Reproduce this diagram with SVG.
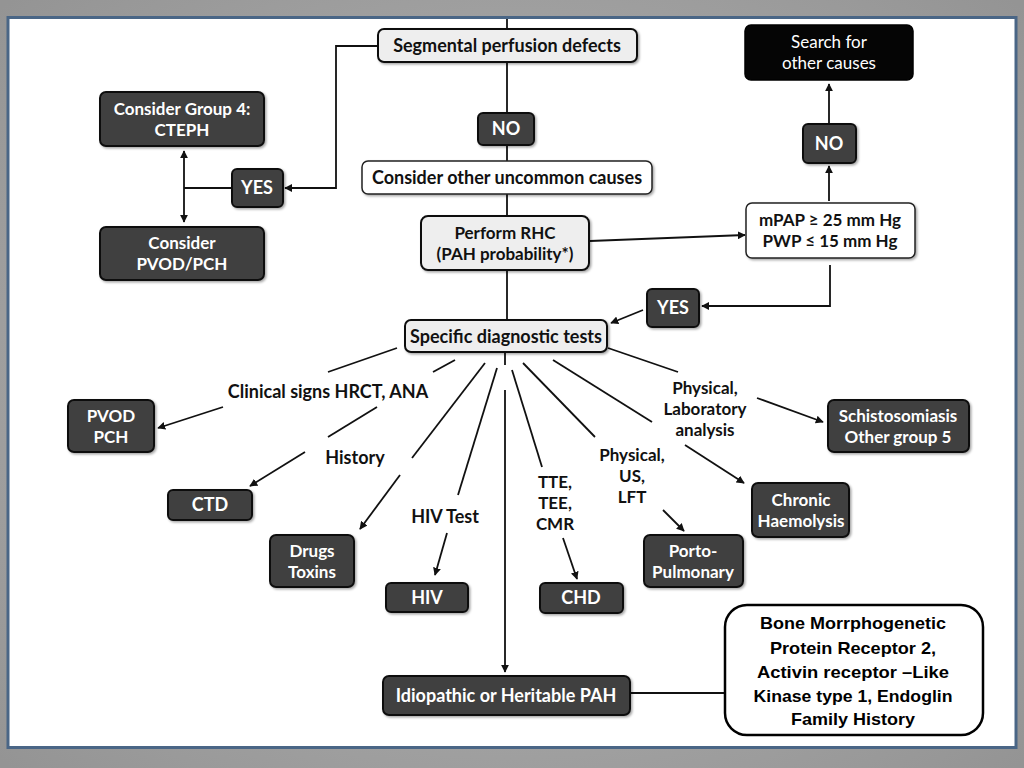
<svg xmlns="http://www.w3.org/2000/svg" width="1024" height="768" viewBox="0 0 1024 768">
<defs>
<radialGradient id="bg" cx="50%" cy="50%" r="70%">
<stop offset="0" stop-color="#b8b8b8"/>
<stop offset="1" stop-color="#949494"/>
</radialGradient>
<marker id="ah" viewBox="0 0 10 10" refX="9" refY="5" markerWidth="8" markerHeight="8" markerUnits="userSpaceOnUse" orient="auto">
<path d="M0,0 L10,5 L0,10 Z" fill="#111"/>
</marker>
<filter id="sh" x="-10%" y="-10%" width="125%" height="130%">
<feDropShadow dx="1.5" dy="1.5" stdDeviation="1.2" flood-color="#000" flood-opacity="0.35"/>
</filter>
</defs>
<style>
.dark{fill:#404040;stroke:#111;stroke-width:2;filter:url(#sh)}
.light{fill:#eeeeee;stroke:#111;stroke-width:2;filter:url(#sh)}
.white{fill:#ffffff;stroke:#222;stroke-width:1.5;filter:url(#sh)}
.black{fill:#050505;stroke:#000;stroke-width:1.5}
.wt{font-family:Lato,"Open Sans","Liberation Sans",sans-serif;font-weight:bold;font-size:18px;fill:#fff;text-anchor:middle}
.bt{font-family:Lato,"Open Sans","Liberation Sans",sans-serif;font-weight:bold;font-size:18px;fill:#111;text-anchor:middle}
.st{font-family:Lato,"Open Sans","Liberation Sans",sans-serif;font-weight:normal;font-size:17px;fill:#fff;text-anchor:middle}
.m{font-size:17px}
.nt{font-family:"Liberation Sans",Arimo,sans-serif;font-weight:bold;font-size:17px;fill:#000;text-anchor:middle}
.ln{fill:none;stroke:#111;stroke-width:1.8}
.ar{fill:none;stroke:#111;stroke-width:1.8;marker-end:url(#ah)}
</style>
<rect x="0" y="0" width="1024" height="768" fill="url(#bg)"/>
<rect x="8" y="17.5" width="1008" height="730" fill="#ffffff" stroke="#4a6686" stroke-width="3"/>

<g id="connectors">
<line class="ln" x1="507" y1="19" x2="507" y2="29"/>
<line class="ln" x1="507" y1="62" x2="507" y2="113"/>
<line class="ln" x1="507" y1="145" x2="507" y2="161"/>
<line class="ln" x1="507" y1="194" x2="507" y2="216"/>
<line class="ln" x1="507" y1="270" x2="507" y2="320"/>
<line class="ln" x1="505" y1="352" x2="505" y2="365"/>
<line class="ar" x1="505" y1="390" x2="505" y2="672"/>
<polyline class="ar" points="378,46 336,46 336,188 285,188"/>
<line class="ln" x1="232" y1="188" x2="184" y2="188"/>
<line class="ar" x1="184" y1="188" x2="184" y2="151"/>
<line class="ar" x1="184" y1="188" x2="184" y2="222"/>
<line class="ar" x1="590" y1="241" x2="745" y2="235"/>
<line class="ar" x1="829" y1="201" x2="829" y2="166"/>
<line class="ar" x1="829" y1="124" x2="829" y2="84"/>
<polyline class="ar" points="830,265 830,306 702,306"/>
<line class="ar" x1="643" y1="310" x2="611" y2="323"/>
<line class="ln" x1="397" y1="348" x2="328" y2="372"/>
<line class="ar" x1="223" y1="407" x2="158" y2="428"/>
<line class="ln" x1="455" y1="360" x2="433" y2="372"/>
<line class="ln" x1="377" y1="407" x2="328" y2="437"/>
<line class="ar" x1="305" y1="452" x2="250" y2="486"/>
<line class="ln" x1="485" y1="363" x2="412" y2="458"/>
<line class="ar" x1="400" y1="475" x2="360" y2="529"/>
<line class="ln" x1="497" y1="368" x2="458" y2="495"/>
<line class="ar" x1="447" y1="533" x2="435" y2="575"/>
<line class="ln" x1="512" y1="370" x2="542" y2="467"/>
<line class="ar" x1="563" y1="538" x2="577" y2="579"/>
<line class="ln" x1="523" y1="363" x2="595" y2="437"/>
<line class="ar" x1="663" y1="510" x2="684" y2="531"/>
<line class="ln" x1="553" y1="360" x2="652" y2="422"/>
<line class="ar" x1="685" y1="445" x2="744" y2="483"/>
<line class="ln" x1="608" y1="348" x2="678" y2="372"/>
<line class="ar" x1="757" y1="398" x2="823" y2="422"/>
<line class="ln" x1="630" y1="693" x2="725" y2="693"/>
</g>

<g id="segmental"><rect class="light" x="378" y="29" width="259" height="33" rx="6"/><text class="bt" x="507" y="52">Segmental perfusion defects</text></g>
<g id="no-center"><rect class="dark" x="478" y="113" width="56" height="32" rx="5"/><text class="wt" x="506" y="135">NO</text></g>
<g id="uncommon"><rect class="white" x="362" y="161" width="290" height="33" rx="6"/><text class="bt" x="507" y="184">Consider other uncommon causes</text></g>
<g id="rhc"><rect class="light" x="421" y="216" width="168" height="54" rx="7"/><text class="bt m" x="505" y="239">Perform RHC</text><text class="bt m" x="505" y="260">(PAH probability*)</text></g>
<g id="specific"><rect class="light" x="405" y="320" width="202" height="32" rx="6"/><text class="bt" x="506" y="343">Specific diagnostic tests</text></g>
<g id="yes-right"><rect class="dark" x="647" y="289" width="52" height="38" rx="5"/><text class="wt" x="673" y="314">YES</text></g>
<g id="mpap"><rect class="white" x="746" y="203" width="169" height="55" rx="6"/><text class="bt m" x="830" y="226">mPAP ≥ 25 mm Hg</text><text class="bt m" x="830" y="247">PWP ≤ 15 mm Hg</text></g>
<g id="no-right"><rect class="dark" x="803" y="124" width="53" height="39" rx="5"/><text class="wt" x="829" y="150">NO</text></g>
<g id="search"><rect class="black" x="745" y="25" width="168" height="55" rx="6"/><text class="st" x="829" y="48">Search for</text><text class="st" x="829" y="69">other causes</text></g>
<g id="cteph"><rect class="dark" x="100" y="92" width="164" height="54" rx="6"/><text class="wt m" x="182" y="115">Consider Group 4:</text><text class="wt m" x="182" y="136">CTEPH</text></g>
<g id="yes-left"><rect class="dark" x="232" y="169" width="51" height="38" rx="5"/><text class="wt" x="257" y="194">YES</text></g>
<g id="pvod-pch-consider"><rect class="dark" x="100" y="227" width="164" height="53" rx="6"/><text class="wt m" x="182" y="249">Consider</text><text class="wt m" x="182" y="270">PVOD/PCH</text></g>
<g id="pvod-pch"><rect class="dark" x="68" y="400" width="86" height="52" rx="6"/><text class="wt m" x="111" y="421.5">PVOD</text><text class="wt m" x="111" y="442.5">PCH</text></g>
<g id="ctd"><rect class="dark" x="168" y="490" width="84" height="30" rx="5"/><text class="wt" x="210" y="511">CTD</text></g>
<g id="drugs"><rect class="dark" x="270" y="535" width="84" height="52" rx="6"/><text class="wt m" x="312" y="556.5">Drugs</text><text class="wt m" x="312" y="577.5">Toxins</text></g>
<g id="hiv"><rect class="dark" x="386" y="583" width="82" height="29" rx="5"/><text class="wt" x="427" y="604">HIV</text></g>
<g id="chd"><rect class="dark" x="540" y="583" width="83" height="30" rx="5"/><text class="wt" x="581" y="604">CHD</text></g>
<g id="porto"><rect class="dark" x="644" y="535" width="99" height="52" rx="6"/><text class="wt m" x="693" y="556.5">Porto-</text><text class="wt m" x="693" y="577.5">Pulmonary</text></g>
<g id="haemolysis"><rect class="dark" x="752" y="483" width="97" height="54" rx="6"/><text class="wt m" x="801" y="505.5">Chronic</text><text class="wt m" x="801" y="526.5">Haemolysis</text></g>
<g id="schisto"><rect class="dark" x="828" y="400" width="141" height="52" rx="6"/><text class="wt m" x="898" y="421.5">Schistosomiasis</text><text class="wt m" x="898" y="442.5">Other group 5</text></g>
<g id="idiopathic"><rect class="dark" x="383" y="676" width="247" height="39" rx="6"/><text class="wt" x="506" y="702">Idiopathic or Heritable PAH</text></g>
<g id="genes"><rect x="725" y="605" width="258" height="130" rx="22" fill="#fff" stroke="#000" stroke-width="2.5"/>
<text class="nt" x="853" y="629" textLength="186" lengthAdjust="spacingAndGlyphs">Bone Morrphogenetic</text>
<text class="nt" x="853" y="654" textLength="166" lengthAdjust="spacingAndGlyphs">Protein Receptor 2,</text>
<text class="nt" x="853" y="678" textLength="192" lengthAdjust="spacingAndGlyphs">Activin receptor –Like</text>
<text class="nt" x="853" y="702" textLength="199" lengthAdjust="spacingAndGlyphs">Kinase type 1, Endoglin</text>
<text class="nt" x="853" y="725" textLength="124" lengthAdjust="spacingAndGlyphs">Family History</text></g>

<g id="labels">
<text class="bt" x="328" y="398">Clinical signs HRCT, ANA</text>
<text class="bt" x="355" y="464">History</text>
<text class="bt" x="445" y="523">HIV Test</text>
<text class="bt m" x="555" y="488">TTE,</text><text class="bt m" x="555" y="509">TEE,</text><text class="bt m" x="555" y="530">CMR</text>
<text class="bt m" x="632" y="461">Physical,</text><text class="bt m" x="632" y="482">US,</text><text class="bt m" x="632" y="503">LFT</text>
<text class="bt m" x="705" y="394">Physical,</text><text class="bt m" x="705" y="415">Laboratory</text><text class="bt m" x="705" y="436">analysis</text>
</g>
</svg>
